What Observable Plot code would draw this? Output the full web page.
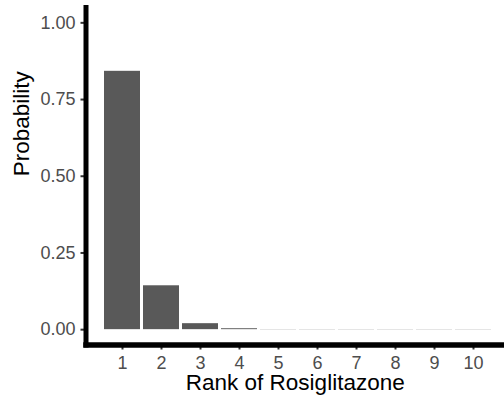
<!DOCTYPE html>
<html><head><meta charset="utf-8">
<script src="https://cdn.jsdelivr.net/npm/d3@7"></script>
<script src="https://cdn.jsdelivr.net/npm/@observablehq/plot@0.6"></script>
<style>html,body{margin:0;padding:0;background:#fff;overflow:hidden}</style>
</head><body><div id="chart"></div>
<script>
const ranks = [1, 2, 3, 4, 5, 6, 7, 8, 9, 10];
const probabilities = [0.842, 0.143, 0.0195, 0.003, 0.0005, 0.0005, 0.0005, 0.0005, 0.0005, 0.0005];
const yTicks = [0, 0.25, 0.5, 0.75, 1];
const xLabel = "Rank of Rosiglitazone";
const yLabel = "Probability";

const data = ranks.map((r, i) => ({rank: r, p: probabilities[i]}));

const chart = Plot.plot({
  width: 504, height: 401,
  marginLeft: 85.5, marginRight: 0, marginTop: 7, marginBottom: 56.5,
  style: {fontFamily: "'Liberation Sans', Arial, sans-serif", background: "#fff", overflow: "hidden"},
  x: {type: "band", domain: ranks, range: [85.5, 508.8], paddingInner: 0.07, paddingOuter: 0.428},
  y: {domain: [-0.05, 1.05]},
  marks: [
    Plot.barY(data, {x: "rank", y: "p", fill: "#595959"}),
    Plot.axisY(yTicks, {tickSize: 5, tickPadding: 5.5, tickFormat: d3.format(".2f"), fontSize: 18,
      stroke: "#333", strokeWidth: 2, fill: "#4d4d4d", label: null}),
    Plot.axisX(ranks, {tickSize: 5, tickPadding: 6, fontSize: 18,
      stroke: "#333", strokeWidth: 2, fill: "#4d4d4d", label: null}),
    Plot.frame({anchor: "left", stroke: "#000", strokeWidth: 5, strokeLinecap: "square"}),
    Plot.frame({anchor: "bottom", stroke: "#000", strokeWidth: 5.5, strokeLinecap: "square"}),
    Plot.text([yLabel], {frameAnchor: "left", dx: -64.7, rotate: -90, fontSize: 22.5, fill: "#000"}),
    Plot.text([xLabel], {frameAnchor: "bottom", dy: 44.5, fontSize: 22.5, fill: "#000"})
  ]
});
document.getElementById("chart").appendChild(chart);
</script>
</body></html>
